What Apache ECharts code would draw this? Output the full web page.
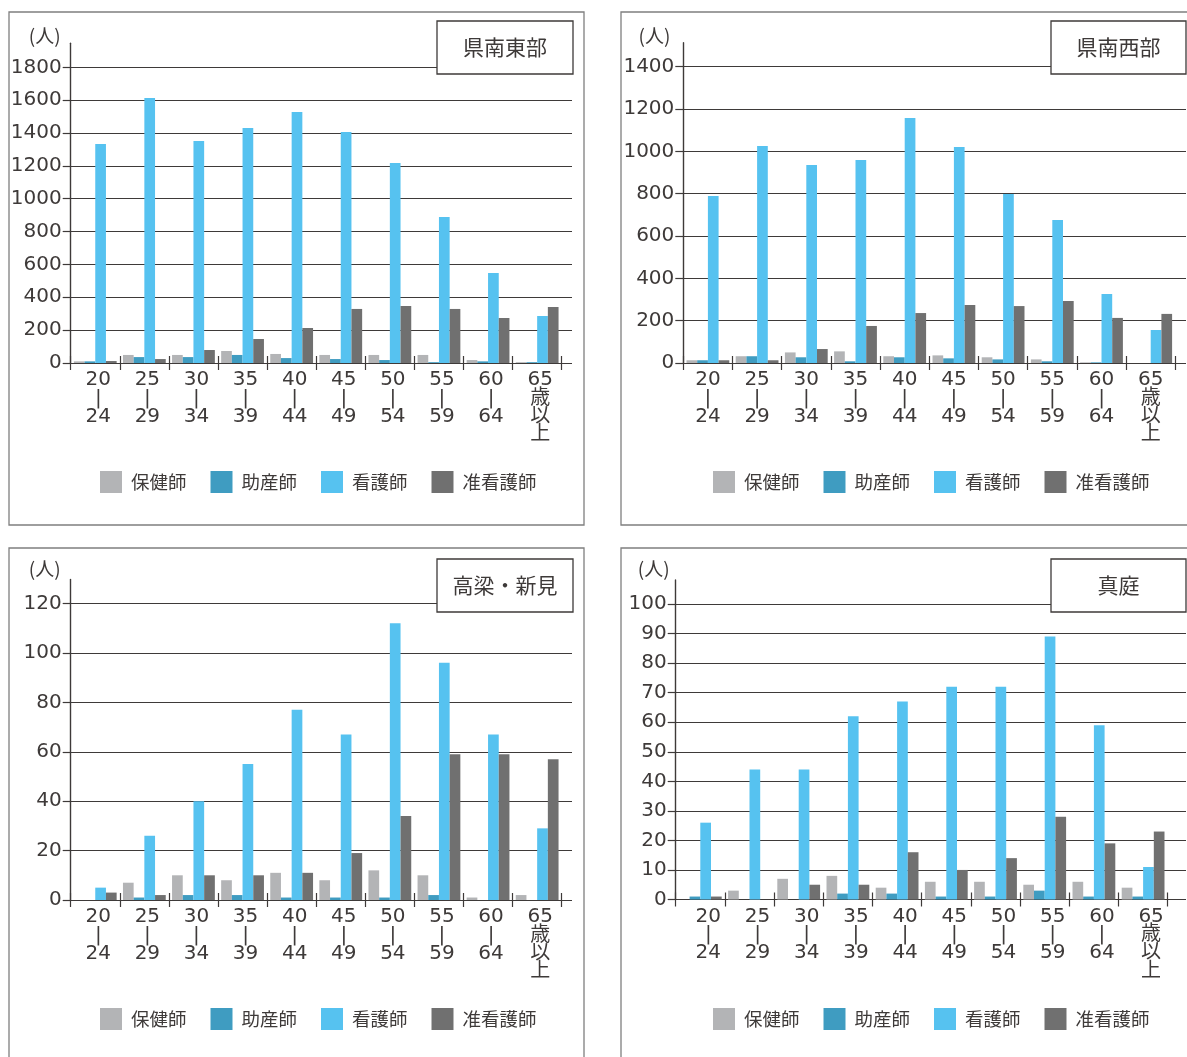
<!DOCTYPE html>
<html lang="ja">
<head>
<meta charset="utf-8">
<title>年齢階級別 就業看護職員数</title>
<script src="https://cdn.jsdelivr.net/npm/echarts@6/dist/echarts.min.js"></script>
<style>
  html, body { margin: 0; padding: 0; background: #fff; }
  #chart { width: 1187px; height: 1057px; }
</style>
</head>
<body>
<div id="chart"></div>
<script>
// Age bands (x-axis categories)
const ageLabels = ['20\n|\n24', '25\n|\n29', '30\n|\n34', '35\n|\n39', '40\n|\n44',
                   '45\n|\n49', '50\n|\n54', '55\n|\n59', '60\n|\n64', '65\n歳\n以\n上'];
const seriesNames = ['保健師', '助産師', '看護師', '准看護師'];

// 県南東部
const tobuHokenshi   = [10, 49, 49, 73, 55, 49, 49, 49, 18, 5];
const tobuJosanshi   = [10, 36, 36, 49, 30, 24, 18, 5, 10, 5];
const tobuKangoshi   = [1333, 1613, 1351, 1430, 1528, 1406, 1217, 889, 548, 286];
const tobuJunkangoshi = [12, 24, 79, 146, 213, 329, 347, 329, 274, 341];

// 県南西部
const seibuHokenshi   = [13, 32, 50, 55, 32, 36, 27, 17, 3, 0];
const seibuJosanshi   = [13, 32, 27, 8, 27, 22, 17, 8, 3, 0];
const seibuKangoshi   = [789, 1025, 936, 959, 1158, 1021, 799, 676, 326, 156];
const seibuJunkangoshi = [13, 13, 66, 175, 236, 274, 269, 293, 213, 232];

// 高梁・新見
const takahashiHokenshi   = [0, 7, 10, 8, 11, 8, 12, 10, 1, 2];
const takahashiJosanshi   = [0, 1, 2, 2, 1, 1, 1, 2, 0, 0];
const takahashiKangoshi   = [5, 26, 40, 55, 77, 67, 112, 96, 67, 29];
const takahashiJunkangoshi = [3, 2, 10, 10, 11, 19, 34, 59, 59, 57];

// 真庭
const maniwaHokenshi   = [0, 3, 7, 8, 4, 6, 6, 5, 6, 4];
const maniwaJosanshi   = [1, 0, 0, 2, 2, 1, 1, 3, 1, 1];
const maniwaKangoshi   = [26, 44, 44, 62, 67, 72, 72, 89, 59, 11];
const maniwaJunkangoshi = [1, 0, 5, 5, 16, 10, 14, 28, 19, 23];

// Axis ranges per region
const tobuAxis = { max: 1800, interval: 200 };
const seibuAxis = { max: 1400, interval: 200 };
const takahashiAxis = { max: 120, interval: 20 };
const maniwaAxis = { max: 100, interval: 10 };

const INK = '#3e3a39';
const SERIES_COLORS = ['#b3b4b6', '#3f9cc1', '#56c2f0', '#707070'];
const NUM_FONT = "'DejaVu Sans', 'Noto Sans CJK JP', sans-serif";
const JP_FONT = "'Noto Sans CJK JP', 'Noto Sans CJK SC', sans-serif";

// Panel layout
const panels = [
  { title: '県南東部', axis: tobuAxis,
    series: [tobuHokenshi, tobuJosanshi, tobuKangoshi, tobuJunkangoshi],
    left: 70.7, lineEnd: 572, catW: 49.1, top: 67.3, base: 363, shift: 3,
    legendLeft: 100, legendTop: 471, unitGap: 10, unitY: 35.8,
    box: [437, 21, 136, 53], frame: [9, 12, 575, 513] },
  { title: '県南西部', axis: seibuAxis,
    series: [seibuHokenshi, seibuJosanshi, seibuKangoshi, seibuJunkangoshi],
    left: 683.3, lineEnd: 1186, catW: 49.2, top: 66.7, base: 363, shift: 0,
    legendLeft: 713, legendTop: 471, unitGap: 13, unitY: 35.5,
    box: [1051, 21, 135, 53], frame: [621, 12, 580, 513] },
  { title: '高梁・新見', axis: takahashiAxis,
    series: [takahashiHokenshi, takahashiJosanshi, takahashiKangoshi, takahashiJunkangoshi],
    left: 70.7, lineEnd: 572, catW: 49.1, top: 603.5, base: 900, shift: 3,
    legendLeft: 100, legendTop: 1008, unitGap: 10, unitY: 569,
    box: [437, 559, 136, 53], frame: [9, 548, 575, 530] },
  { title: '真庭', axis: maniwaAxis,
    series: [maniwaHokenshi, maniwaJosanshi, maniwaKangoshi, maniwaJunkangoshi],
    left: 675.7, lineEnd: 1186, catW: 49.2, top: 604, base: 899.5, shift: 8,
    legendLeft: 713, legendTop: 1008, unitGap: 6, unitY: 569,
    box: [1051, 559, 135, 53], frame: [621, 548, 580, 530] }
];

const grid = [], xAxis = [], yAxis = [], series = [], legend = [], graphic = [];

panels.forEach((p, i) => {
  const height = p.base - p.top;
  const g0 = i * 4;
  const axisTop = p.top - 24;

  // grid: value gridlines + y labels (wide)
  grid.push({ left: p.left, top: p.top, width: p.lineEnd - p.left, height: height });
  xAxis.push({ gridIndex: g0, type: 'category', data: ageLabels, show: false });
  yAxis.push({
    gridIndex: g0, type: 'value', min: 0, max: p.axis.max, interval: p.axis.interval,
    axisLine: { show: false },
    axisTick: { show: true, length: 8, lineStyle: { color: INK, width: 1.2 } },
    axisLabel: { margin: 9, fontSize: 20, color: INK, fontFamily: NUM_FONT,
                 formatter: (v) => String(v) },
    splitLine: { show: true, lineStyle: { color: INK, width: 1.2 } }
  });

  // grid: bars + category labels + outer ticks
  grid.push({ left: p.left, top: p.top, width: p.catW * 10, height: height });
  xAxis.push({
    gridIndex: g0 + 1, type: 'category', data: ageLabels,
    axisLine: { show: false },
    axisTick: { show: true, interval: 0, length: 7, lineStyle: { color: INK, width: 1.2 } },
    axisLabel: {
      interval: 0, margin: 8, fontSize: 20, lineHeight: 18.3, color: INK,
      fontFamily: NUM_FONT, verticalAlign: 'top', padding: [0, 0, 0, p.shift * 2]
    }
  });
  yAxis.push({ gridIndex: g0 + 1, type: 'value', min: 0, max: p.axis.max, interval: p.axis.interval, show: false });

  // grid: inner ticks of the category axis
  grid.push({ left: p.left, top: p.top, width: p.catW * 10, height: height });
  xAxis.push({
    gridIndex: g0 + 2, type: 'category', data: ageLabels,
    axisLine: { show: false },
    axisTick: { show: true, inside: true, interval: 0, length: 7, lineStyle: { color: INK, width: 1.2 } },
    axisLabel: { show: false }
  });
  yAxis.push({ gridIndex: g0 + 2, type: 'value', min: 0, max: p.axis.max, show: false });

  // grid: vertical axis line with unit name
  grid.push({ left: p.left, top: axisTop, width: 10, height: p.base - axisTop });
  xAxis.push({ gridIndex: g0 + 3, type: 'category', data: [''], show: false });
  yAxis.push({
    gridIndex: g0 + 3, type: 'value', min: 0, max: 1,
    axisLine: { show: true, lineStyle: { color: INK, width: 1.4 } },
    axisTick: { show: false }, axisLabel: { show: false }, splitLine: { show: false },
    name: '(人)', nameLocation: 'end', nameGap: axisTop - p.unitY,
    nameTextStyle: {
      fontSize: 19, color: INK, fontFamily: JP_FONT,
      align: 'right', verticalAlign: 'middle', padding: [0, p.unitGap, 0, 0]
    }
  });

  p.series.forEach((values, k) => {
    series.push({
      type: 'bar', name: seriesNames[k], xAxisIndex: g0 + 1, yAxisIndex: g0 + 1,
      data: values, barWidth: 10.7, barGap: '0%',
      itemStyle: { color: SERIES_COLORS[k] }, silent: true
    });
  });

  legend.push({
    data: seriesNames, left: p.legendLeft, top: p.legendTop, padding: 0,
    icon: 'rect', itemWidth: 22, itemHeight: 22, itemGap: 24,
    selectedMode: false,
    textStyle: { fontSize: 18.5, color: INK, fontFamily: JP_FONT, padding: [0, 0, 0, 4] }
  });

  // panel frame
  graphic.push({
    type: 'rect', z: 50, silent: true,
    shape: { x: p.frame[0], y: p.frame[1], width: p.frame[2], height: p.frame[3] },
    style: { fill: 'none', stroke: '#7f7f7f', lineWidth: 1.3 }
  });
  // region title box
  graphic.push({
    type: 'rect', z: 100, silent: true,
    shape: { x: p.box[0], y: p.box[1], width: p.box[2], height: p.box[3] },
    style: { fill: '#ffffff', stroke: INK, lineWidth: 1.3 }
  });
  graphic.push({
    type: 'text', z: 101, silent: true,
    x: p.box[0] + p.box[2] / 2, y: p.box[1] + p.box[3] / 2,
    style: {
      text: p.title, fill: INK, fontSize: 21, fontFamily: JP_FONT,
      textAlign: 'center', textVerticalAlign: 'middle'
    }
  });
});

const chart = echarts.init(document.getElementById('chart'), null, { renderer: 'canvas' });
chart.setOption({
  backgroundColor: '#ffffff',
  animation: false,
  grid, xAxis, yAxis, series, legend, graphic
});
</script>
</body>
</html>
